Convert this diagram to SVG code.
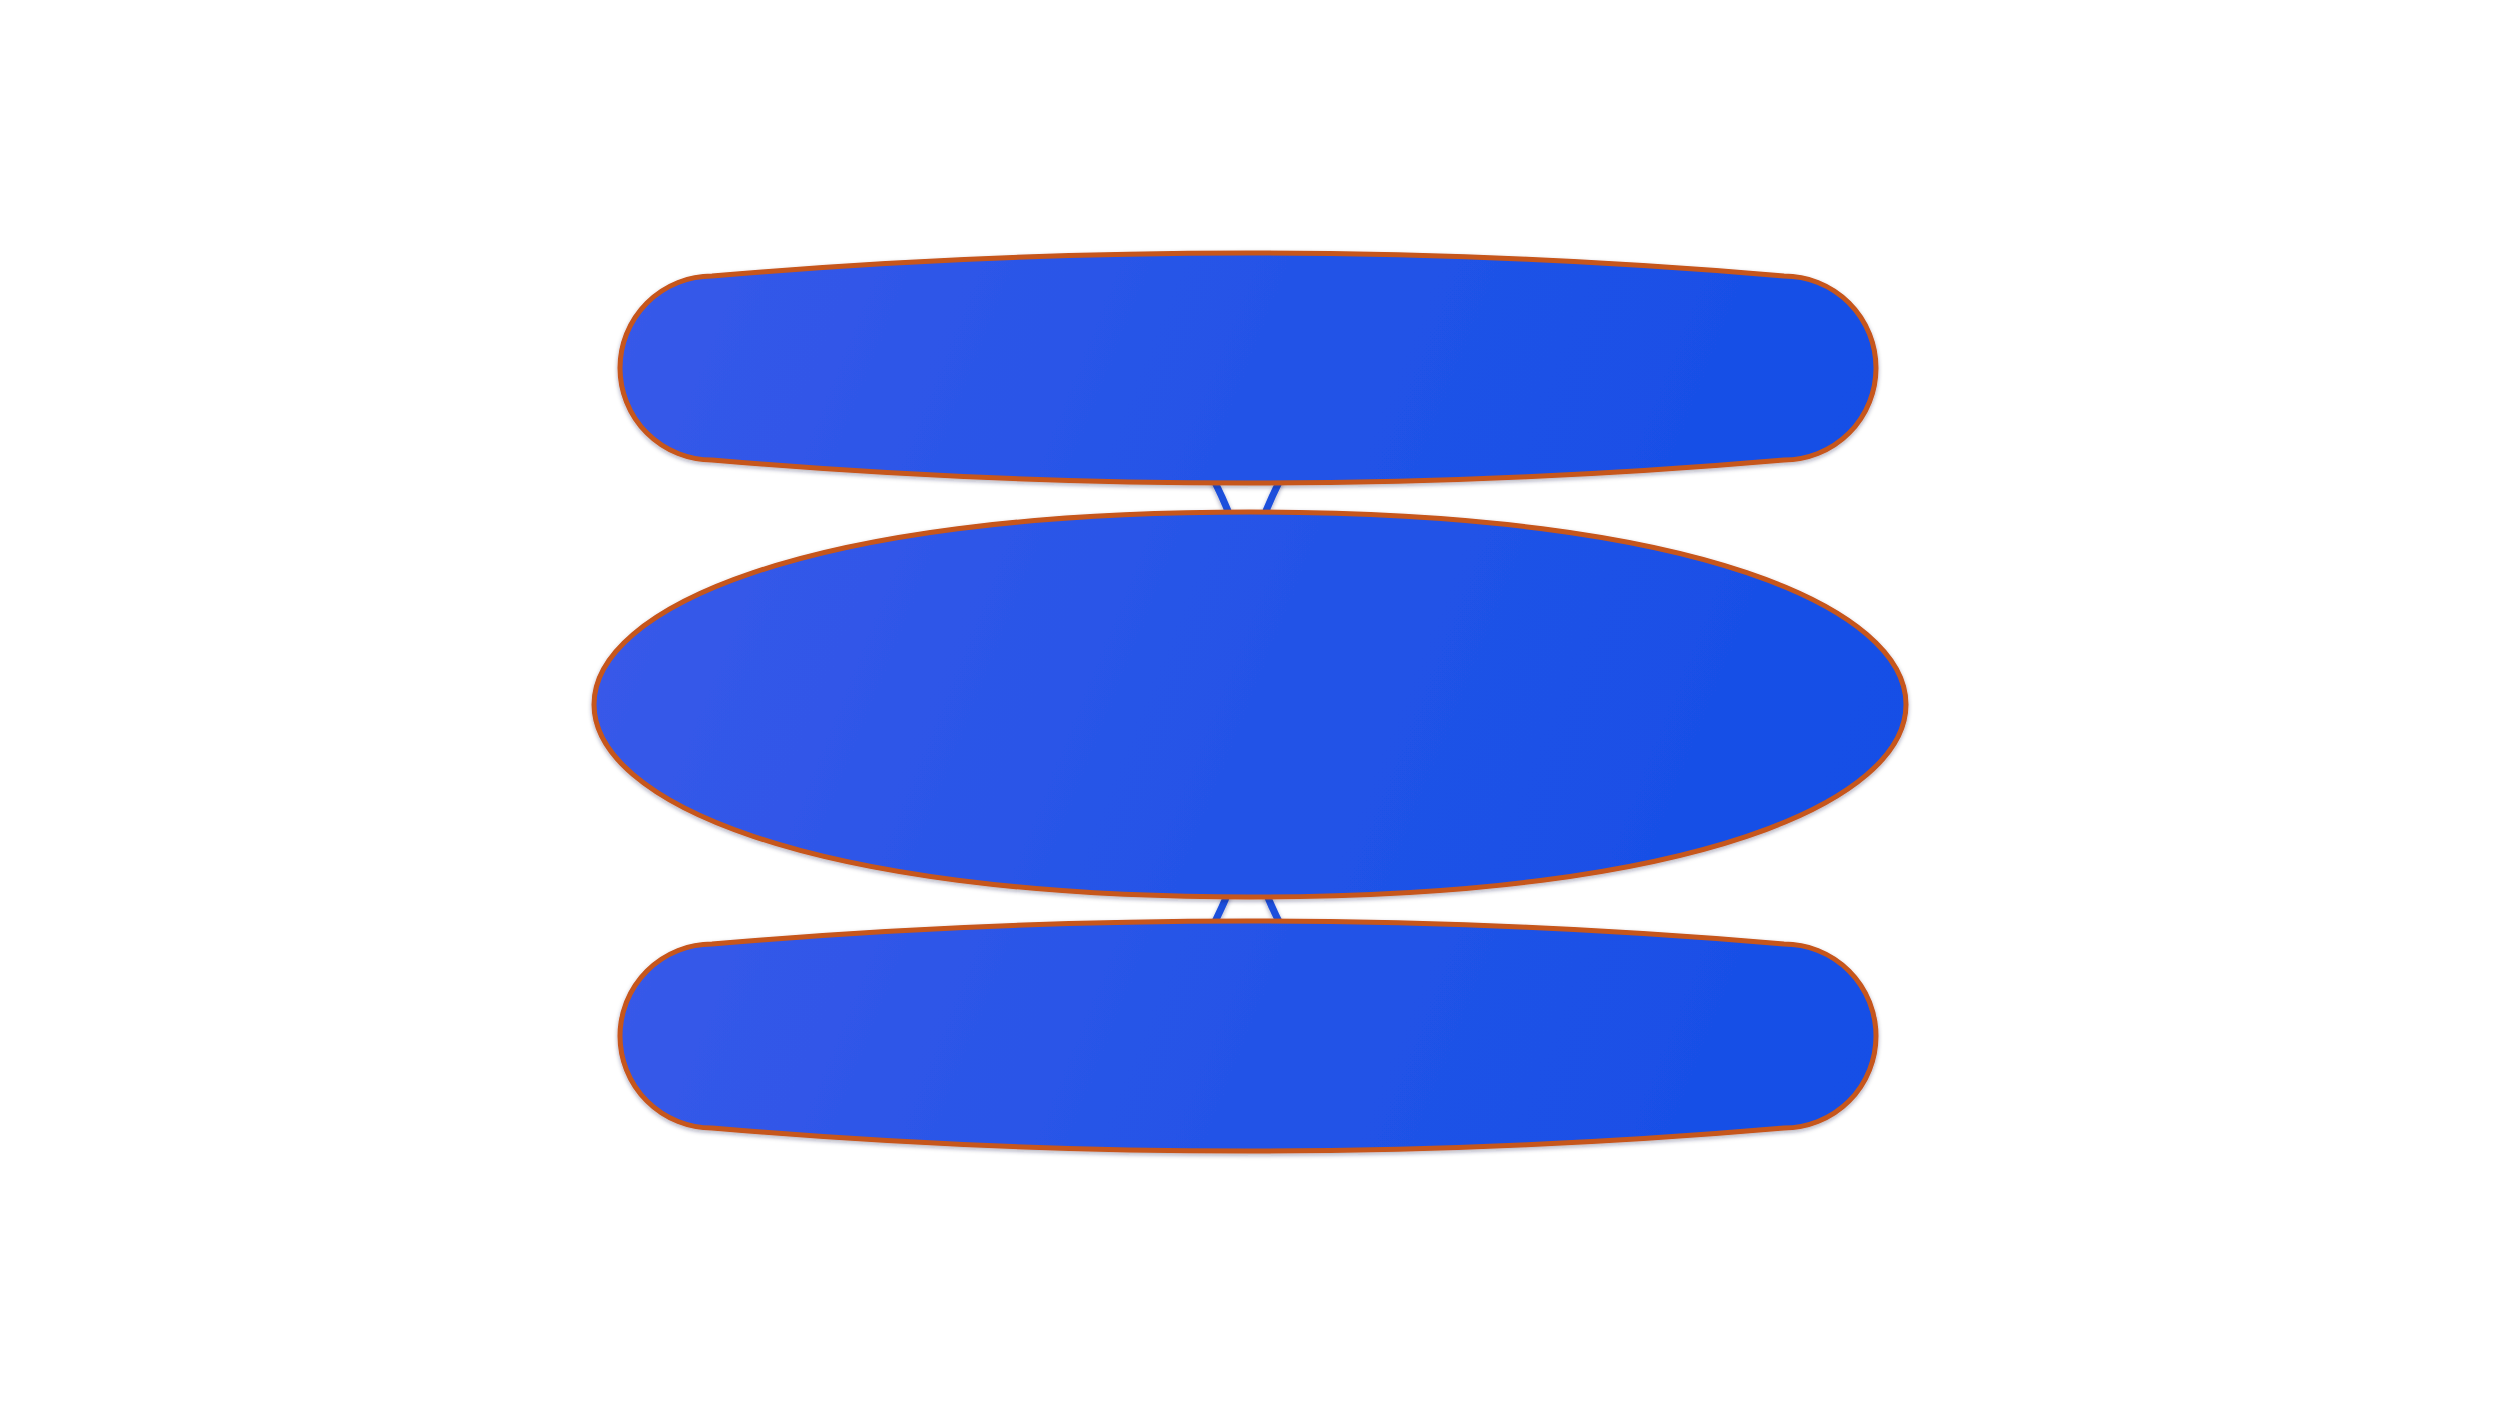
<svg xmlns="http://www.w3.org/2000/svg" width="2500" height="1406" viewBox="0 0 2500 1406">
  <defs>
    <linearGradient id="nodeFill" gradientUnits="userSpaceOnUse" x1="-650" y1="-260" x2="650" y2="260">
      <stop offset="0" stop-color="#3a5ae9"/>
      <stop offset="0.5" stop-color="#2453e7"/>
      <stop offset="1" stop-color="#124ee6"/>
    </linearGradient>
    <filter id="shadow" x="-5%" y="-10%" width="110%" height="125%">
      <feDropShadow dx="0" dy="2" stdDeviation="2" flood-color="#202040" flood-opacity="0.35"/>
    </filter>
  </defs>
  <style>
    .node { fill: url(#nodeFill); stroke: #c6561a; stroke-width: 5; filter: url(#shadow); }
    .edge { fill: none; stroke: #1d50dc; stroke-width: 7; filter: url(#shadow); }
  </style>
  <rect x="0" y="0" width="2500" height="1406" fill="#ffffff"/>
  <g id="connectors">
    <path class="edge" d="M 1145,368 Q 1392,702 1145,1036"/>
    <path class="edge" d="M 1349,368 Q 1102,702 1349,1036"/>
  </g>
  <g id="node-top" transform="translate(1248,368)">
    <path class="node" d="M -536,-92 Q 0,-138 536,-92 A 92 92 0 0 1 536,92 Q 0,138 -536,92 A 92 92 0 0 1 -536,-92 Z"/>
  </g>
  <g id="node-middle" transform="translate(1250,704.5)">
    <path class="node" d="M -656,0 C -656,-95 -450,-192.5 0,-192.5 C 450,-192.5 656,-95 656,0 C 656,95 450,192.5 0,192.5 C -450,192.5 -656,95 -656,0 Z"/>
  </g>
  <g id="node-bottom" transform="translate(1248,1036)">
    <path class="node" d="M -536,-92 Q 0,-138 536,-92 A 92 92 0 0 1 536,92 Q 0,138 -536,92 A 92 92 0 0 1 -536,-92 Z"/>
  </g>
</svg>
